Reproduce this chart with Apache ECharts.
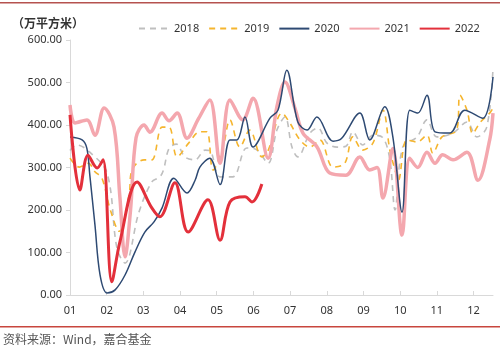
<!DOCTYPE html>
<html><head><meta charset="utf-8">
<script src="https://cdn.jsdelivr.net/npm/echarts@6/dist/echarts.min.js"></script>
<style>html,body{margin:0;padding:0;background:#fff}#c{width:500px;height:353px}</style>
</head><body><div id="c"></div>
<script>
// x = month position (1 = Jan ... 12 = Dec), y = 万平方米
const monthTicks = ['01','02','03','04','05','06','07','08','09','10','11','12'];
const seriesNames = ['2018','2019','2020','2021','2022'];
const d2018 = [[1.0,340],[1.19,353],[1.54,336],[2.01,287],[2.28,110],[2.50,75],[2.88,195],[3.23,266],[3.45,278],[3.55,295],[3.70,345],[3.90,355],[4.13,325],[4.41,318],[4.68,341],[4.81,340],[5.09,278],[5.44,278],[5.82,346],[6.10,341],[6.40,310],[6.64,388],[6.86,419],[7.05,348],[7.21,325],[7.54,381],[7.76,393],[8.00,358],[8.28,348],[8.52,350],[8.71,384],[8.98,353],[9.26,376],[9.53,370],[9.72,318],[9.86,200],[10.07,348],[10.46,372],[10.73,412],[11.00,372],[11.44,381],[11.82,407],[12.09,372],[12.36,395],[12.53,534]];
const d2019 = [[1.0,322],[1.25,301],[1.50,310],[1.68,290],[1.87,275],[2.10,200],[2.34,150],[2.61,235],[2.69,294],[3.02,318],[3.23,318],[3.51,395],[3.70,395],[3.92,325],[4.24,358],[4.54,384],[4.73,384],[4.90,294],[5.17,348],[5.36,412],[5.63,348],[5.90,388],[6.23,325],[6.40,340],[6.78,428],[6.99,405],[7.27,365],[7.54,348],[7.81,365],[8.17,301],[8.49,310],[8.71,372],[8.98,341],[9.26,358],[9.53,435],[9.72,340],[9.86,294],[9.95,270],[10.18,365],[10.46,360],[10.73,376],[10.89,334],[11.14,372],[11.54,388],[11.63,470],[11.82,435],[11.98,380],[12.17,405],[12.44,428],[12.53,440]];
const d2020 = [[1.0,372],[1.33,365],[1.46,345],[1.54,282],[1.68,165],[1.82,47],[2.01,5],[2.23,12],[2.50,47],[2.77,101],[3.04,148],[3.29,172],[3.51,205],[3.83,275],[4.19,240],[4.41,270],[4.54,301],[4.81,322],[5.09,260],[5.36,365],[5.55,365],[5.77,419],[5.99,348],[6.45,416],[6.67,435],[6.91,529],[7.21,407],[7.46,388],[7.73,419],[8.17,362],[8.40,368],[8.90,428],[9.17,365],[9.58,443],[9.80,372],[10.05,195],[10.26,435],[10.48,428],[10.73,470],[10.95,384],[11.35,381],[11.76,435],[12.25,416],[12.53,513]];
const d2021 = [[1.0,447],[1.14,405],[1.46,412],[1.68,376],[1.93,440],[2.20,395],[2.36,230],[2.50,90],[2.65,200],[2.80,370],[3.02,400],[3.18,383],[3.51,428],[3.70,410],[3.92,428],[4.19,369],[4.51,416],[4.81,459],[5.09,310],[5.36,459],[5.71,412],[5.99,463],[6.40,322],[6.64,443],[6.86,501],[7.13,440],[7.35,381],[7.73,349],[8.08,287],[8.52,282],[8.90,325],[9.17,294],[9.37,300],[9.53,228],[9.80,345],[10.05,141],[10.26,322],[10.48,300],[10.73,336],[10.95,310],[11.16,330],[11.44,318],[11.82,336],[12.12,270],[12.44,365],[12.53,428]];
const d2022 = [[1.0,424],[1.27,247],[1.49,329],[1.74,299],[1.90,318],[2.14,31],[2.36,125],[2.83,266],[3.23,205],[3.45,184],[3.86,264],[4.22,148],[4.76,224],[5.09,129],[5.36,219],[5.77,231],[5.96,219],[6.23,261]];

const chart = echarts.init(document.getElementById('c'), null, {renderer:'canvas'});
const font = '"Noto Sans", "Noto Sans CJK SC", sans-serif';
function mk(name, data, color, width, type, z){
  return {name, type:'line', data, smooth:0.35, symbol:'none', showSymbol:false, z,
    lineStyle:{color, width, type}, itemStyle:{color}};
}
chart.setOption({
  animation:false,
  textStyle:{fontFamily:font},
  grid:{left:70, right:7, top:40, bottom:58, containLabel:false},
  legend:{left:133, top:18, itemWidth:30, itemHeight:14, itemGap:9,
    itemStyle:{opacity:0},
    textStyle:{fontSize:11, color:'#333', fontFamily:font}, data:seriesNames},
  graphic:[
    {type:'text', left:12, top:17, style:{text:'（万平方米）', fontSize:12, fontWeight:'bold', fill:'#333', fontFamily:'"Noto Sans CJK SC", sans-serif'}},
    {type:'rect', shape:{x:0,y:2,width:500,height:1.5}, style:{fill:'#b5524f'}},
    {type:'rect', shape:{x:0,y:326,width:500,height:1.5}, style:{fill:'#c8463d'}},
    {type:'text', left:3, top:333, style:{text:'资料来源：Wind，嘉合基金', fontSize:12, fill:'#555', fontFamily:'"Noto Sans CJK SC", sans-serif'}}
  ],
  xAxis:{type:'value', min:1, max:12.53, interval:1,
    axisLine:{lineStyle:{color:'#d9d9d9', width:1}},
    axisTick:{inside:true, length:4, lineStyle:{color:'#d9d9d9'}},
    splitLine:{show:false},
    axisLabel:{margin:10, fontSize:11, color:'#333', showMaxLabel:false,
      formatter:v=>{const i=Math.round(v); return Math.abs(v-i)<1e-6 && i>=1 && i<=12 ? monthTicks[i-1] : '';}}
  },
  yAxis:{type:'value', min:0, max:600, interval:100,
    axisLine:{show:true, lineStyle:{color:'#d9d9d9'}},
    axisTick:{show:true, length:4, lineStyle:{color:'#d9d9d9'}},
    splitLine:{show:false},
    axisLabel:{margin:8, fontSize:11, color:'#333', formatter:v=>v.toFixed(2)}
  },
  series:[
    mk('2018', d2018, '#bfbfbf', 1.6, [6,5], 2),
    mk('2019', d2019, '#f5b52e', 1.6, [6,5], 3),
    mk('2020', d2020, '#2e4a73', 1.5, 'solid', 5),
    mk('2021', d2021, '#f4a7ae', 3.5, 'solid', 4),
    mk('2022', d2022, '#e3303b', 3, 'solid', 6)
  ]
});
</script></body></html>
